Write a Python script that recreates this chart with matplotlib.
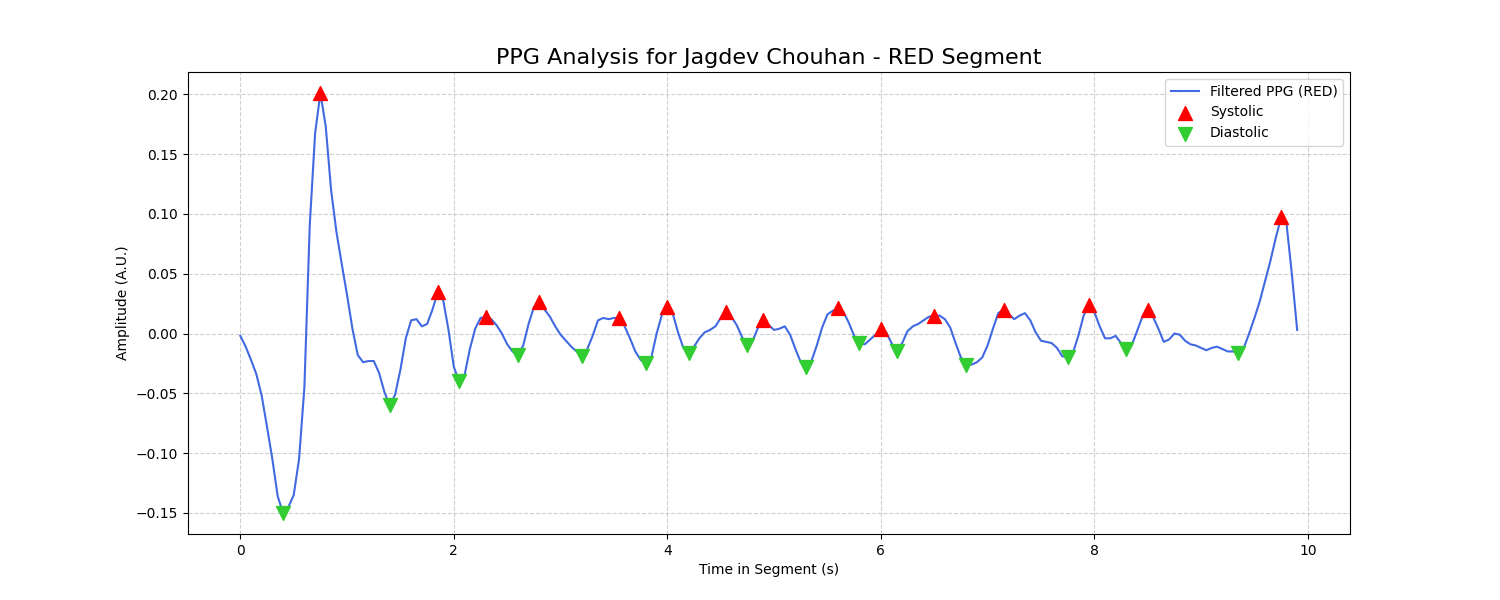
import numpy as np
import matplotlib
matplotlib.use('Agg')
import matplotlib.pyplot as plt

fs = 20  # Hz
ppg_red = [
    -0.002, -0.011, -0.022, -0.034, -0.052, -0.078, -0.105, -0.136, -0.150, -0.145,
    -0.135, -0.105, -0.045, 0.090, 0.167, 0.201, 0.173, 0.120, 0.085, 0.058,
    0.032, 0.004, -0.018, -0.024, -0.023, -0.023, -0.033, -0.049, -0.060, -0.051,
    -0.030, -0.004, 0.011, 0.012, 0.006, 0.008, 0.020, 0.035, 0.028, 0.003,
    -0.028, -0.040, -0.035, -0.013, 0.004, 0.013, 0.014, 0.012, 0.007, 0.000,
    -0.009, -0.015, -0.018, -0.010, 0.008, 0.022, 0.026, 0.020, 0.014, 0.006,
    -0.001, -0.006, -0.011, -0.015, -0.019, -0.013, -0.002, 0.011, 0.013, 0.012,
    0.013, 0.013, 0.006, -0.004, -0.015, -0.022, -0.025, -0.020, 0.000, 0.016,
    0.022, 0.017, 0.001, -0.012, -0.016, -0.011, -0.004, 0.001, 0.003, 0.006,
    0.013, 0.018, 0.014, 0.007, -0.003, -0.010, -0.006, 0.005, 0.011, 0.007,
    0.003, 0.004, 0.006, -0.001, -0.013, -0.024, -0.028, -0.023, -0.010, 0.005,
    0.016, 0.019, 0.021, 0.018, 0.009, -0.002, -0.008, -0.009, -0.005, -0.001,
    0.004, 0.001, -0.008, -0.015, -0.008, 0.002, 0.006, 0.008, 0.011, 0.014,
    0.015, 0.015, 0.012, 0.005, -0.008, -0.020, -0.026, -0.026, -0.024, -0.020,
    -0.010, 0.004, 0.017, 0.020, 0.016, 0.012, 0.015, 0.017, 0.011, 0.001,
    -0.006, -0.007, -0.008, -0.012, -0.019, -0.020, -0.016, -0.002, 0.015, 0.024,
    0.018, 0.006, -0.004, -0.004, -0.002, -0.008, -0.013, -0.010, 0.002, 0.014,
    0.020, 0.014, 0.004, -0.007, -0.005, 0.000, -0.001, -0.006, -0.009, -0.010,
    -0.012, -0.014, -0.012, -0.011, -0.013, -0.015, -0.015, -0.016, -0.012, 0.000,
    0.013, 0.027, 0.044, 0.061, 0.080, 0.097, 0.092, 0.050, 0.003,
]
systolic_idx = [15, 37, 46, 56, 71, 80, 91, 98, 112, 120, 130, 143, 159, 170, 195]
diastolic_idx = [8, 28, 41, 52, 64, 76, 84, 95, 106, 116, 123, 136, 155, 166, 187]

sig = np.array(ppg_red)
t = np.arange(len(sig)) / fs

fig, ax = plt.subplots(figsize=(15, 6))
ax.plot(t, sig, color='royalblue', lw=1.5, label='Filtered PPG (RED)')
ax.scatter(t[systolic_idx], sig[systolic_idx], marker='^', color='red', s=100,
           label='Systolic', zorder=5)
ax.scatter(t[diastolic_idx], sig[diastolic_idx], marker='v', color='limegreen', s=100,
           label='Diastolic', zorder=5)

ax.set_title('PPG Analysis for Jagdev Chouhan - RED Segment', fontsize=16)
ax.set_xlabel('Time in Segment (s)')
ax.set_ylabel('Amplitude (A.U.)')
ax.grid(True, linestyle='--', alpha=0.6)
ax.legend(loc='upper right')

fig.savefig('out.png', dpi=100)
